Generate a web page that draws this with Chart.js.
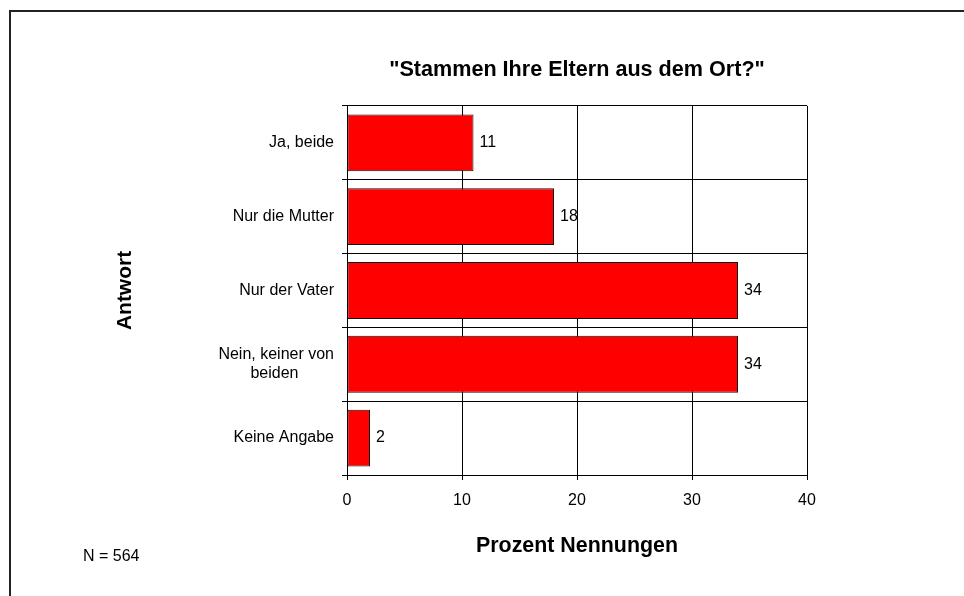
<!DOCTYPE html>
<html lang="de">
<head>
<meta charset="utf-8">
<title>Stammen Ihre Eltern aus dem Ort?</title>
<script src="https://cdn.jsdelivr.net/npm/chart.js@4/dist/chart.umd.min.js"></script>
<style>
    html, body { margin: 0; padding: 0; background: #fff; }
    #wrap { position: relative; width: 964px; height: 596px; overflow: hidden; }
    #rahmen {
        position: absolute; left: 9px; top: 10px; width: 2000px; height: 2000px;
        border-top: 2px solid #222; border-left: 2px solid #222;
    }
    #statsChart { position: absolute; left: 0; top: 0; }
</style>
</head>
<body>
<div id="wrap">
    <div id="rahmen"></div>
    <canvas id="statsChart" width="964" height="596"></canvas>
</div>
<script>
// Daten
const antworten = ['Ja, beide', 'Nur die Mutter', 'Nur der Vater', ['Nein, keiner von', 'beiden\u00a0\u00a0\u00a0\u00a0\u00a0\u00a0\u00a0\u00a0'], 'Keine Angabe'];
const prozent = [11, 18, 34, 34, 2];
const xTicks = [0, 10, 20, 30, 40];
const fallzahl = 'N = 564';

const schrift = '"Liberation Sans", Arial, sans-serif';

document.addEventListener('DOMContentLoaded', function() {
    // Werte rechts neben die Balken schreiben, plus Fallzahl unten links
    const beschriftung = {
        id: 'beschriftung',
        afterDatasetsDraw(chart) {
            const ctx = chart.ctx;
            const meta = chart.getDatasetMeta(0);
            ctx.save();
            ctx.font = '16px ' + schrift;
            ctx.fillStyle = '#000';
            ctx.textAlign = 'left';
            ctx.textBaseline = 'middle';
            meta.data.forEach((bar, i) => {
                ctx.fillText(String(prozent[i]), bar.x + 6, bar.y);
            });
            ctx.fillText(fallzahl, 83, 557);
            ctx.restore();
        }
    };

    const ctx = document.getElementById('statsChart').getContext('2d');
    const statsChart = new Chart(ctx, {
        type: 'bar',
        data: {
            labels: antworten,
            datasets: [{
                data: prozent,
                backgroundColor: '#ff0000',
                borderColor: '#111',
                borderWidth: 1,
                borderSkipped: false,
                barPercentage: 0.77,
                categoryPercentage: 1
            }]
        },
        options: {
            indexAxis: 'y',
            responsive: false,
            animation: false,
            devicePixelRatio: 1,
            layout: { padding: { top: 0, left: 0, right: 157, bottom: 0 } },
            plugins: {
                legend: { display: false },
                tooltip: { enabled: false },
                title: {
                    display: true,
                    fullSize: false,
                    text: '"Stammen Ihre Eltern aus dem Ort?"',
                    color: '#000',
                    font: { family: schrift, size: 21.6, weight: 'bold' },
                    padding: { top: 57, bottom: 23 }
                }
            },
            scales: {
                x: {
                    min: 0,
                    max: 40,
                    afterBuildTicks: s => { s.ticks = xTicks.map(v => ({ value: v })); },
                    afterFit: s => { s.height = 121; },
                    grid: { color: '#000', lineWidth: 1, tickLength: 5, tickColor: '#000' },
                    border: { display: true, color: '#000' },
                    ticks: { color: '#000', padding: 11, font: { family: schrift, size: 16 } },
                    title: {
                        display: true,
                        text: 'Prozent Nennungen',
                        color: '#000',
                        font: { family: schrift, size: 21.4, weight: 'bold' },
                        padding: { top: 0, bottom: 37 }
                    }
                },
                y: {
                    afterFit: s => { s.width = 347; },
                    grid: { color: '#000', lineWidth: 1, tickLength: 5, tickColor: '#000' },
                    border: { display: true, color: '#000' },
                    ticks: { color: '#000', padding: 8, font: { family: schrift, size: 16 } },
                    title: {
                        display: true,
                        text: 'Antwort',
                        color: '#000',
                        font: { family: schrift, size: 21, weight: 'bold' },
                        padding: { top: 113, bottom: 0 }
                    }
                }
            }
        },
        plugins: [beschriftung]
    });
});
</script>
</body>
</html>
